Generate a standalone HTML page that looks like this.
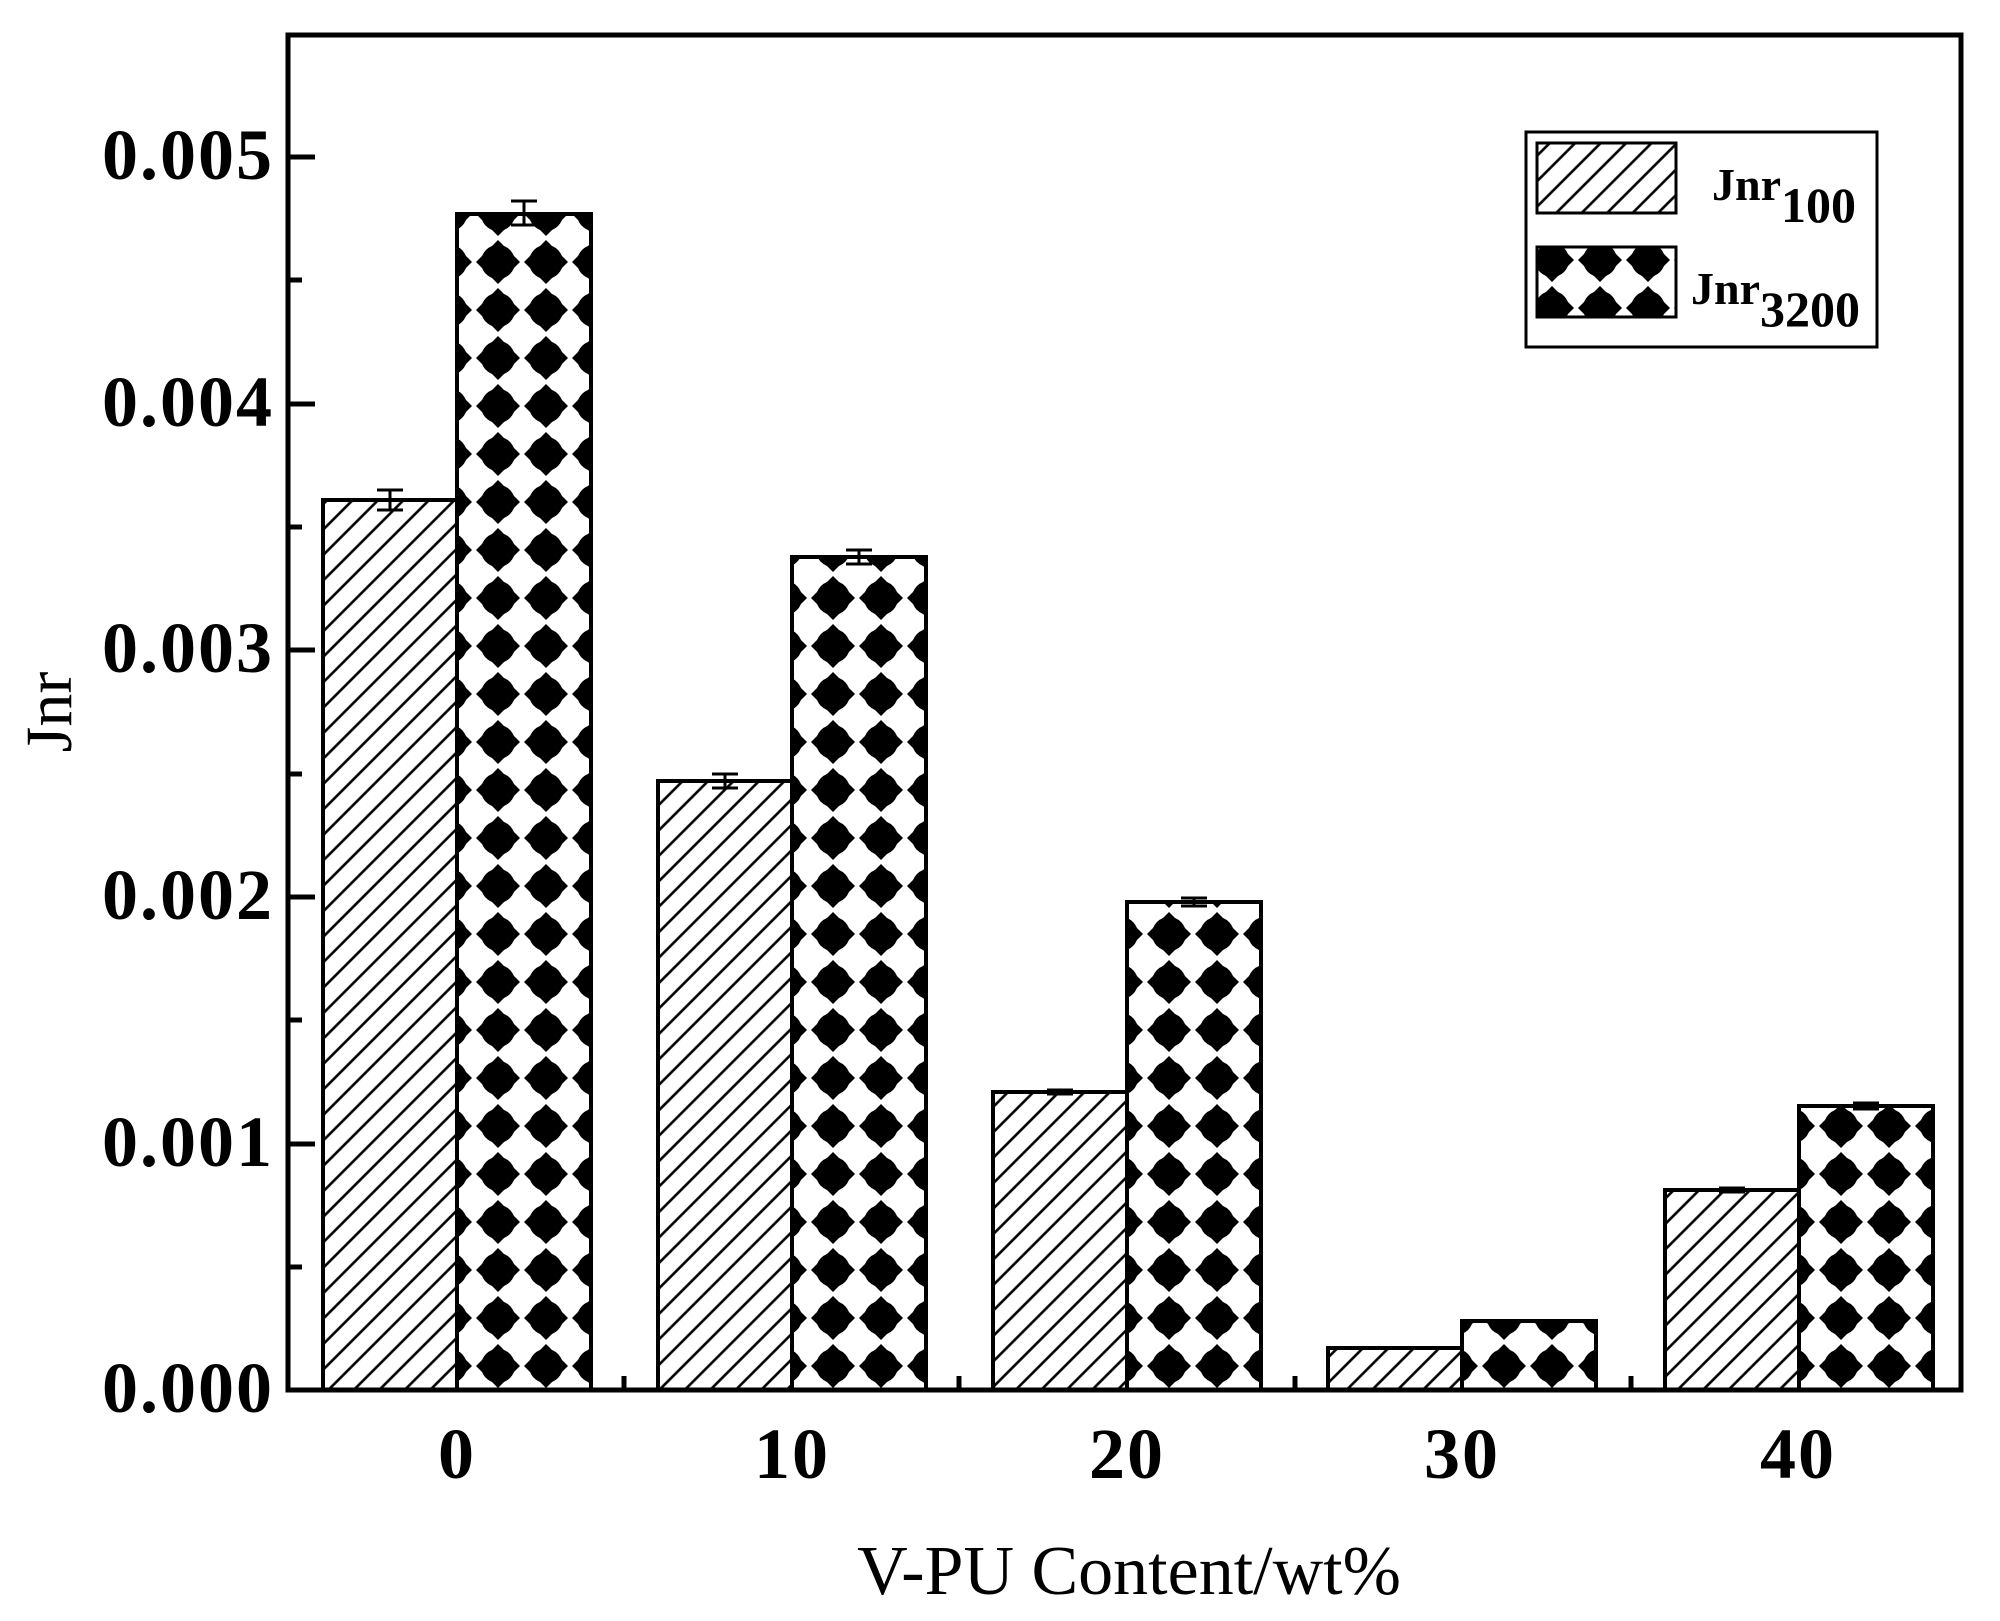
<!DOCTYPE html>
<html><head><meta charset="utf-8"><style>
html,body{margin:0;padding:0;background:#fff;}
svg{display:block;}
text{font-family:"Liberation Serif",serif;fill:#000;}
</style></head><body>
<svg width="2000" height="1621" viewBox="0 0 2000 1621" xmlns="http://www.w3.org/2000/svg">
<defs>
<pattern id="hatch" patternUnits="userSpaceOnUse" width="18" height="18" patternTransform="rotate(45)">
<line x1="9" y1="-2" x2="9" y2="20" stroke="#000" stroke-width="2.6"/>
</pattern>
<g id="dia">
<polygon points="24,2 46,24 24,46 2,24" fill="#000"/>
<circle cx="24" cy="24" r="17" fill="#000"/>
</g>
<pattern id="d0" patternUnits="userSpaceOnUse" x="474" y="1342" width="48" height="48"><use href="#dia"/></pattern>
<pattern id="d1" patternUnits="userSpaceOnUse" x="809" y="1342" width="48" height="48"><use href="#dia"/></pattern>
<pattern id="d2" patternUnits="userSpaceOnUse" x="1145" y="1342" width="48" height="48"><use href="#dia"/></pattern>
<pattern id="d3" patternUnits="userSpaceOnUse" x="1480" y="1342" width="48" height="48"><use href="#dia"/></pattern>
<pattern id="d4" patternUnits="userSpaceOnUse" x="1817" y="1342" width="48" height="48"><use href="#dia"/></pattern>
<pattern id="dl" patternUnits="userSpaceOnUse" x="1528" y="236" width="48" height="48"><use href="#dia"/></pattern>
</defs>

<g stroke="#000" stroke-width="4">
<rect x="323" y="500" width="134" height="890" fill="url(#hatch)"/>
<rect x="457" y="214" width="134" height="1176" fill="url(#d0)"/>
<rect x="658" y="781" width="134" height="609" fill="url(#hatch)"/>
<rect x="792" y="557" width="134" height="833" fill="url(#d1)"/>
<rect x="993" y="1092" width="134" height="298" fill="url(#hatch)"/>
<rect x="1127" y="902" width="134" height="488" fill="url(#d2)"/>
<rect x="1328" y="1348" width="134" height="42" fill="url(#hatch)"/>
<rect x="1462" y="1321" width="134" height="69" fill="url(#d3)"/>
<rect x="1665" y="1190" width="134" height="200" fill="url(#hatch)"/>
<rect x="1799" y="1106" width="134" height="284" fill="url(#d4)"/>
</g>

<g stroke="#000" stroke-width="3" fill="none">
<path d="M390 490V510M377 490H403M377 510H403"/>
<path d="M524 201V225M511 201H537M511 225H537"/>
<path d="M725 774V788M712 774H738M712 788H738"/>
<path d="M859 550V564M846 550H872M846 564H872"/>
<path d="M1060 1090V1094M1047 1090H1073M1047 1094H1073"/>
<path d="M1194 898V906M1181 898H1207M1181 906H1207"/>
<path d="M1732 1188V1192M1719 1188H1745M1719 1192H1745"/>
<path d="M1866 1103V1109M1853 1103H1879M1853 1109H1879"/>
</g>

<rect x="288" y="35" width="1673" height="1355" fill="none" stroke="#000" stroke-width="5"/>
<g stroke="#000" stroke-width="5">
<path d="M288 1144H315M288 897H315M288 650H315M288 404H315M288 157H315"/>
<path d="M288 1267H302M288 1020H302M288 774H302M288 527H302M288 280H302"/>
<path d="M624 1390V1376M959 1390V1376M1295 1390V1376M1631 1390V1376"/>
</g>
<g font-size="72" font-weight="bold" text-anchor="end" letter-spacing="2">
<text x="274" y="1412">0.000</text>
<text x="274" y="1166">0.001</text>
<text x="274" y="919">0.002</text>
<text x="274" y="672">0.003</text>
<text x="274" y="426">0.004</text>
<text x="274" y="179">0.005</text>
</g>
<g font-size="72" font-weight="bold" text-anchor="middle" letter-spacing="2">
<text x="457" y="1478">0</text>
<text x="792" y="1478">10</text>
<text x="1127" y="1478">20</text>
<text x="1462" y="1478">30</text>
<text x="1798" y="1478">40</text>
</g>
<text x="1129" y="1594" font-size="70" text-anchor="middle">V-PU Content/wt%</text>
<text transform="translate(71,712) rotate(-90)" font-size="66" text-anchor="middle">Jnr</text>

<rect x="1526" y="132" width="351" height="215" fill="#fff" stroke="#000" stroke-width="3"/>
<rect x="1537" y="143" width="139" height="70" fill="url(#hatch)" stroke="#000" stroke-width="3"/>
<rect x="1537" y="247" width="139" height="70" fill="url(#dl)" stroke="#000" stroke-width="3"/>
<text x="1712" y="200" font-size="46" font-weight="bold">Jnr<tspan font-size="50" dy="22">100</tspan></text>
<text x="1691" y="304" font-size="46" font-weight="bold">Jnr<tspan font-size="50" dy="22">3200</tspan></text>
</svg>
</body></html>
